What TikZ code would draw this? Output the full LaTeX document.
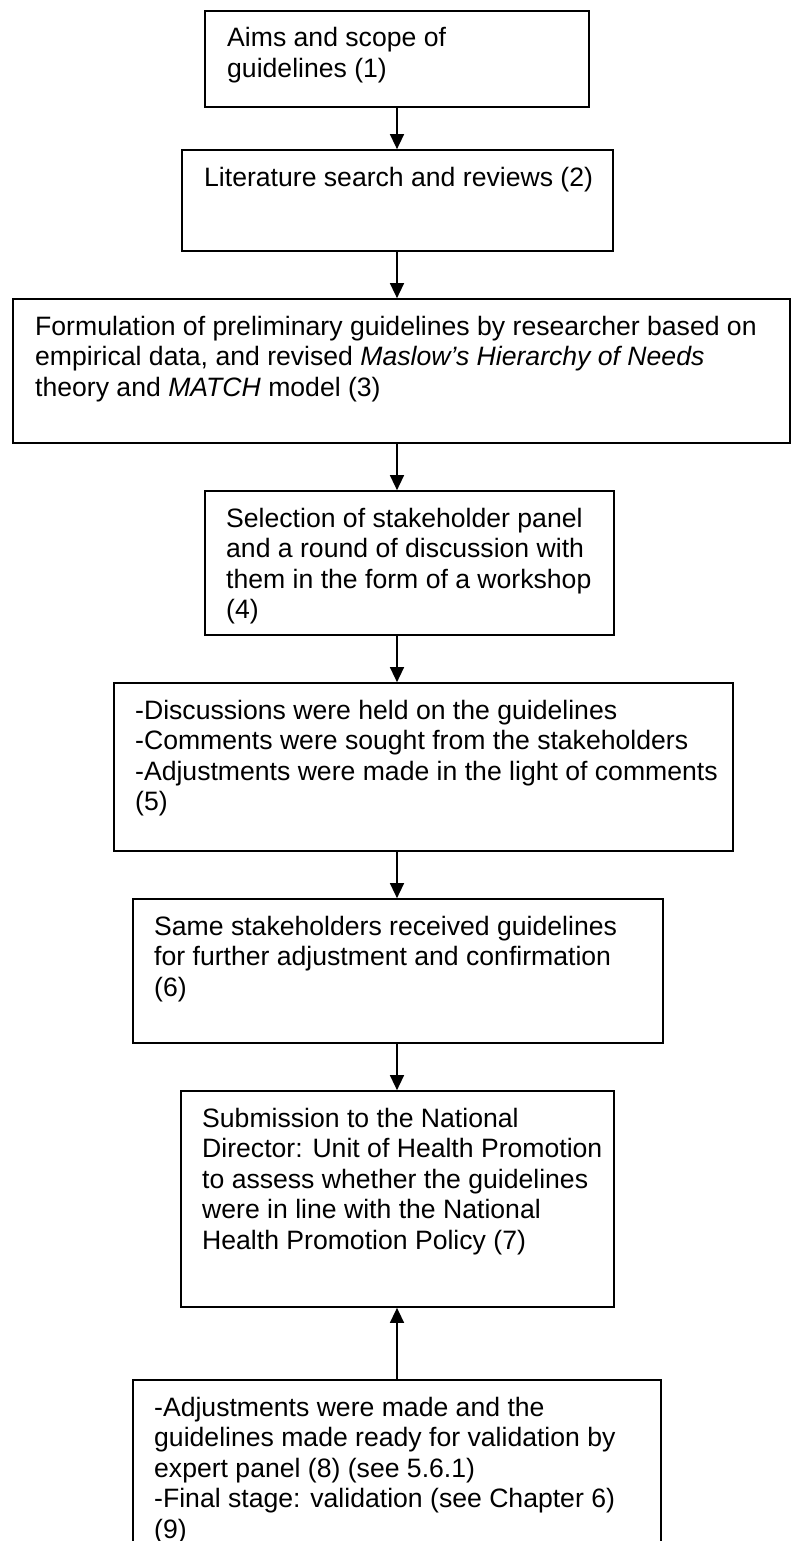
\documentclass[tikz,border=0pt]{standalone}
\usepackage{fontspec}
\setmainfont{Liberation Sans}
\usetikzlibrary{arrows.meta,fit}

% a framed stage of the procedure, given by its top-left and bottom-right corners
\newcommand\stagebox[5]{%
  \coordinate (#1nw) at (#2,#3);
  \coordinate (#1se) at (#4,#5);
  \node[box, fit=(#1nw)(#1se)] (#1) {};}
% left-aligned text whose reference point is the baseline of its first line
\newcommand\stagetext[1]{\parbox[t]{760pt}{\raggedright #1}}

\begin{document}
\begin{tikzpicture}[x=1pt, y=-1pt,
  box/.style={draw=black, line width=1.7pt, inner sep=0pt},
  txt/.style={anchor=base west, inner sep=0pt, font=\fontsize{26.6}{30.5}\selectfont},
  arr/.style={line width=1.4pt, -{Triangle[length=15pt, width=14pt]}}]

\useasboundingbox (0,0) rectangle (792,1541);
\fill[white] (0,0) rectangle (792,1541);
\clip (0,0) rectangle (792,1541);

\coordinate (ax) at (397,0);

% boxes
\stagebox{b1}{205}{11}{589}{107}
\stagebox{b2}{182}{150}{613}{251}
\stagebox{b3}{13}{299}{790}{443}
\stagebox{b4}{205}{491}{614}{635}
\stagebox{b5}{114}{683}{733}{851}
\stagebox{b6}{133}{899}{663}{1043}
\stagebox{b7}{181}{1091}{614}{1307}
\stagebox{b8}{133}{1380}{661}{1570}

% texts
\node[txt] (t1) at (227,47) {\stagetext{Aims and scope of\\ guidelines (1)}};
\node[txt] (t2) at (204,186) {\stagetext{Literature search and reviews (2)}};
\node[txt] (t3) at (35,335) {\stagetext{Formulation of preliminary guidelines by researcher based on\\
  empirical data, and revised \textit{Maslow’s Hierarchy of Needs}\\
  theory and \textit{MATCH} model (3)}};
\node[txt] (t4) at (226,527) {\stagetext{Selection of stakeholder panel\\
  and a round of discussion with\\ them in the form of a workshop\\ (4)}};
\node[txt] (t5) at (135,719) {\stagetext{-Discussions were held on the guidelines\\
  -Comments were sought from the stakeholders\\
  -Adjustments were made in the light of comments\\ (5)}};
\node[txt] (t6) at (154,935) {\stagetext{Same stakeholders received guidelines\\
  for further adjustment and confirmation\\ (6)}};
\node[txt] (t7) at (202,1127) {\stagetext{Submission to the National\\
  Director: Unit of Health Promotion\\ to assess whether the guidelines\\
  were in line with the National\\ Health Promotion Policy (7)}};
\node[txt] (t8) at (154,1416) {\stagetext{-Adjustments were made and the\\
  guidelines made ready for validation by\\ expert panel (8) (see 5.6.1)\\
  -Final stage: validation (see Chapter 6)\\ (9)}};

% connectors
\draw[arr] (b1.south -| ax) -- (b2.north -| ax);
\draw[arr] (b2.south -| ax) -- (b3.north -| ax);
\draw[arr] (b3.south -| ax) -- (b4.north -| ax);
\draw[arr] (b4.south -| ax) -- (b5.north -| ax);
\draw[arr] (b5.south -| ax) -- (b6.north -| ax);
\draw[arr] (b6.south -| ax) -- (b7.north -| ax);
\draw[arr] (b8.north -| ax) -- (b7.south -| ax);
\end{tikzpicture}
\end{document}
